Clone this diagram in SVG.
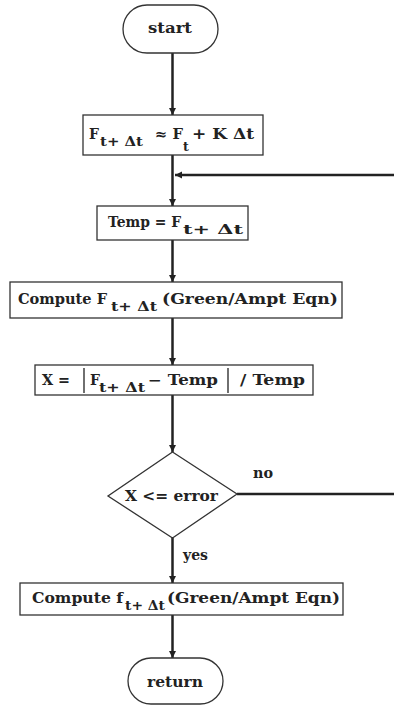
<svg xmlns="http://www.w3.org/2000/svg" width="394" height="706" viewBox="0 0 394 706">
<defs>
<marker id="ah" markerWidth="8" markerHeight="8" refX="7" refY="4" orient="auto" markerUnits="userSpaceOnUse">
<path d="M0,0.5 L7,4 L0,7.5 Z" fill="#222"/>
</marker>
<style>
.shape{fill:#fff;stroke:#333;stroke-width:1.3}
.conn{stroke:#222;stroke-width:2.5;fill:none}
.t{font-family:"DejaVu Serif","Liberation Serif",serif;font-size:14px;font-weight:bold;fill:#222}
.s{font-size:12.5px}
.bar{stroke:#222;stroke-width:1.3}
</style>
</defs>
<rect width="394" height="706" fill="#fff"/>
<g id="connectors">
<line class="conn" x1="172.5" y1="53" x2="172.5" y2="115" marker-end="url(#ah)"/>
<line class="conn" x1="172.5" y1="155" x2="172.5" y2="206" marker-end="url(#ah)"/>
<line class="conn" x1="394" y1="175" x2="175" y2="175" marker-end="url(#ah)"/>
<line class="conn" x1="172.5" y1="240" x2="172.5" y2="282" marker-end="url(#ah)"/>
<line class="conn" x1="172.5" y1="318" x2="172.5" y2="365" marker-end="url(#ah)"/>
<line class="conn" x1="172.5" y1="395" x2="172.5" y2="452" marker-end="url(#ah)"/>
<line class="conn" x1="172.5" y1="538" x2="172.5" y2="583" marker-end="url(#ah)"/>
<line class="conn" x1="172.5" y1="615" x2="172.5" y2="658" marker-end="url(#ah)"/>
<line class="conn" x1="237" y1="494" x2="394" y2="494"/>
<text class="t" x="253" y="478" textLength="20" lengthAdjust="spacingAndGlyphs">no</text>
<text class="t" x="183" y="560" textLength="25" lengthAdjust="spacingAndGlyphs">yes</text>
</g>
<g id="start">
<rect class="shape" x="123" y="5" width="95" height="48" rx="24"/>
<text class="t" x="148" y="33" textLength="44" lengthAdjust="spacingAndGlyphs">start</text>
</g>
<g id="predict">
<rect class="shape" x="83" y="115" width="180" height="40"/>
<text class="t" x="89" y="139">F</text>
<text class="t s" x="100" y="146" textLength="43" lengthAdjust="spacingAndGlyphs">t+ Δt</text>
<text class="t" x="155" y="139" textLength="28" lengthAdjust="spacingAndGlyphs">≈ F</text>
<text class="t s" x="183" y="151">t</text>
<text class="t" x="192" y="139" textLength="62" lengthAdjust="spacingAndGlyphs">+ K Δt</text>
</g>
<g id="temp">
<rect class="shape" x="97" y="206" width="151" height="34"/>
<text class="t" x="108" y="227" textLength="73" lengthAdjust="spacingAndGlyphs">Temp = F</text>
<text class="t s" x="183" y="234" textLength="60" lengthAdjust="spacingAndGlyphs">t+ Δt</text>
</g>
<g id="compute1">
<rect class="shape" x="10" y="282" width="332" height="36"/>
<text class="t" x="18" y="304" textLength="89" lengthAdjust="spacingAndGlyphs">Compute F</text>
<text class="t s" x="111" y="311" textLength="46" lengthAdjust="spacingAndGlyphs">t+ Δt</text>
<text class="t" x="162" y="304" textLength="176" lengthAdjust="spacingAndGlyphs">(Green/Ampt Eqn)</text>
</g>
<g id="error">
<rect class="shape" x="35" y="365" width="278" height="30"/>
<text class="t" x="42" y="385" textLength="28" lengthAdjust="spacingAndGlyphs">X =</text>
<line class="bar" x1="84" y1="368" x2="84" y2="393"/>
<text class="t" x="90" y="385">F</text>
<text class="t s" x="99" y="392" textLength="46" lengthAdjust="spacingAndGlyphs">t+ Δt</text>
<text class="t" x="148" y="385" textLength="70" lengthAdjust="spacingAndGlyphs">− Temp</text>
<line class="bar" x1="228" y1="368" x2="228" y2="393"/>
<text class="t" x="240" y="385" textLength="65" lengthAdjust="spacingAndGlyphs">/ Temp</text>
</g>
<g id="decision">
<polygon class="shape" points="172.5,452 237,494 172.5,538 108,496"/>
<text class="t" x="125" y="501" textLength="93" lengthAdjust="spacingAndGlyphs">X &lt;= error</text>
</g>
<g id="compute2">
<rect class="shape" x="20" y="583" width="323" height="32"/>
<text class="t" x="32" y="603" textLength="91" lengthAdjust="spacingAndGlyphs">Compute f</text>
<text class="t s" x="125" y="610" textLength="40" lengthAdjust="spacingAndGlyphs">t+ Δt</text>
<text class="t" x="167" y="603" textLength="173" lengthAdjust="spacingAndGlyphs">(Green/Ampt Eqn)</text>
</g>
<g id="return">
<rect class="shape" x="128" y="658" width="95" height="46" rx="23"/>
<text class="t" x="147" y="687" textLength="56" lengthAdjust="spacingAndGlyphs">return</text>
</g>
</svg>
